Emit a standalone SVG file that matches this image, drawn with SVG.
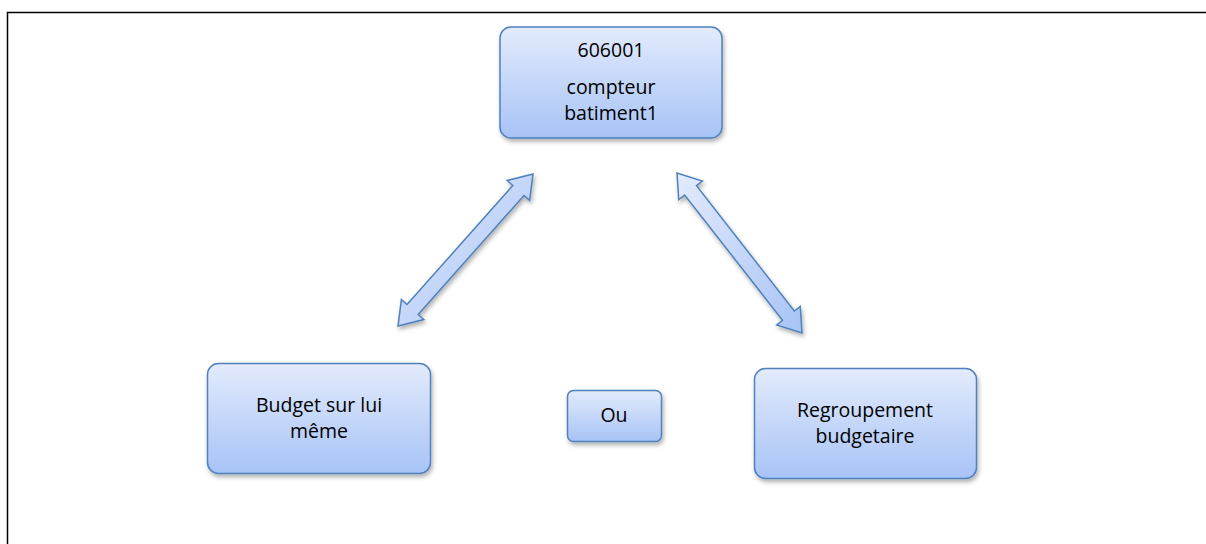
<svg xmlns="http://www.w3.org/2000/svg" width="1206" height="544" viewBox="0 0 1206 544">
  <defs>
    <linearGradient id="g" x1="0" y1="0" x2="0" y2="1">
      <stop offset="0" stop-color="#e3ebfc"/>
      <stop offset="1" stop-color="#a7c3f6"/>
    </linearGradient>
    <linearGradient id="ga" x1="0" y1="0" x2="1" y2="1">
      <stop offset="0" stop-color="#e3ebfc"/>
      <stop offset="1" stop-color="#a7c3f6"/>
    </linearGradient>
    <filter id="sh" x="-20%" y="-20%" width="140%" height="150%">
      <feDropShadow dx="1.5" dy="3" stdDeviation="2" flood-color="#000" flood-opacity="0.3"/>
    </filter>
  </defs>
  <style>
    .box { fill: url(#g); stroke: #4f81bd; stroke-width: 1.5; filter: url(#sh); }
    .arr { fill: url(#ga); stroke: #4f81bd; stroke-width: 1.5; stroke-linejoin: miter; filter: url(#sh); }
    .t { font-family: "Open Sans", "Liberation Sans", sans-serif; font-size: 19.5px; fill: #000; text-anchor: middle; }
  </style>
  <rect width="1206" height="544" fill="#fff"/>
  <path d="M7.5,544 V12.5 H1206" fill="none" stroke="#000" stroke-width="1.5"/>

  <g id="connectors">
    <polygon class="arr" points="533,174 529.61,200.42 524,195.44 418.22,314.52 423.83,319.5 398,326 401.39,299.58 407,304.56 512.78,185.48 507.17,180.5"/>
    <polygon class="arr" points="677,173 678.73,199.58 684.64,194.96 782.54,320.28 776.63,324.9 802,333 800.27,306.42 794.36,311.04 696.46,185.72 702.37,181.1"/>
  </g>

  <g id="node-top">
    <rect class="box" x="500" y="27" width="222" height="111" rx="11"/>
    <text class="t" x="611" y="57">606001</text>
    <text class="t" x="611" y="94">compteur</text>
    <text class="t" x="611" y="120">batiment1</text>
  </g>

  <g id="node-left">
    <rect class="box" x="207.5" y="363.5" width="223" height="110" rx="11"/>
    <text class="t" x="319" y="412">Budget sur lui</text>
    <text class="t" x="319" y="438">même</text>
  </g>

  <g id="node-ou">
    <rect class="box" x="567.5" y="390.5" width="94" height="51" rx="6"/>
    <text class="t" x="614" y="422">Ou</text>
  </g>

  <g id="node-right">
    <rect class="box" x="754.5" y="368.5" width="222" height="110" rx="11"/>
    <text class="t" x="865" y="417">Regroupement</text>
    <text class="t" x="865" y="443">budgetaire</text>
  </g>
</svg>
